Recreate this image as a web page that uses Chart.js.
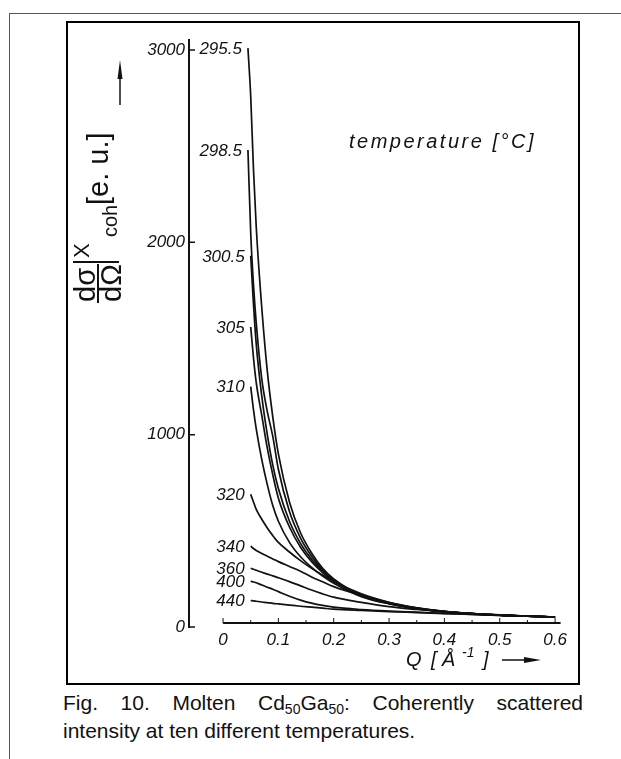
<!DOCTYPE html>
<html>
<head>
<meta charset="utf-8">
<script src="https://cdn.jsdelivr.net/npm/chart.js@4.4.0/dist/chart.umd.min.js"></script>
<style>
    html, body { margin:0; padding:0; background:#fff; }
    body { width:621px; height:759px; position:relative; overflow:hidden; font-family:"Liberation Sans", Arial, sans-serif; }
    .page-edge { position:absolute; left:9px; top:13px; right:0; bottom:0; border-top:1px solid #555; border-left:1px solid #555; }
    .frame { position:absolute; left:66px; top:21px; width:514px; height:664px; border:2px solid #000; box-sizing:border-box; }
    #chart { position:absolute; left:0; top:0; }
    .caption { position:absolute; left:63px; width:520px; font-size:21px; line-height:28px; color:#111; }
    .caption.first { top:689px; text-align:justify; text-align-last:justify; }
    .caption.second { top:717px; }
    .caption .sub { font-size:14px; position:relative; top:4px; }
</style>
</head>
<body>
<div class="page-edge"></div>
<div class="frame"></div>
<div class="caption first">Fig. 10. Molten Cd<span class="sub">50</span>Ga<span class="sub">50</span>: Coherently scattered</div>
<div class="caption second">intensity at ten different temperatures.</div>
<canvas id="chart" width="621" height="759"></canvas>
<script>
(function(global){
    "use strict";

    var qValues = [0.045, 0.05, 0.055, 0.06, 0.07, 0.08, 0.09, 0.10, 0.12, 0.14, 0.16, 0.18, 0.20, 0.25, 0.30, 0.35, 0.40, 0.45, 0.50, 0.55, 0.60];

    var curveNames = ["295.5", "298.5", "300.5", "305", "310", "320", "340", "360", "400", "440"];

    // intensity [e.u.] per temperature, null = curve not drawn there
    var t2955 = [3010, 2760, 2380, 2080, 1660, 1330, 1090, 900, 650, 490, 385, 305, 250, 165, 125, 98, 80, 70, 63, 57, 52];
    var t2985 = [2480, 2050, 1780, 1580, 1290, 1120, 990, 820, 600, 462, 368, 297, 246, 164, 124, 97, 80, 70, 62, 57, 52];
    var t3005 = [null, 1930, 1680, 1470, 1200, 1000, 840, 720, 550, 435, 352, 290, 242, 163, 123, 97, 80, 70, 62, 57, 52];
    var t305 = [null, 1560, 1400, 1270, 1100, 930, 790, 670, 520, 415, 340, 283, 238, 162, 122, 96, 79, 70, 62, 57, 52];
    var t310 = [null, 1250, 1130, 1030, 870, 740, 630, 550, 440, 365, 310, 265, 228, 158, 120, 95, 79, 69, 62, 57, 52];
    var t320 = [null, 690, 650, 612, 560, 515, 475, 440, 390, 345, 305, 270, 236, 172, 128, 99, 81, 70, 62, 57, 52];
    var t340 = [null, 420, 408, 398, 382, 368, 354, 340, 315, 290, 260, 235, 210, 165, 127, 99, 81, 70, 62, 57, 52];
    var t360 = [null, 305, 300, 295, 285, 275, 266, 256, 236, 214, 192, 172, 155, 128, 106, 91, 79, 69, 62, 56, 52];
    var t400 = [null, 238, 234, 230, 218, 207, 196, 184, 160, 140, 124, 112, 103, 91, 83, 77, 71, 65, 60, 56, 52];
    var t440 = [null, 137, 136, 134, 130, 127, 123, 120, 114, 108, 103, 98, 93, 86, 80, 75, 70, 65, 60, 56, 51];

    var curveValues = [t2955, t2985, t3005, t305, t310, t320, t340, t360, t400, t440];

    var xTickValues = [0, 0.1, 0.2, 0.3, 0.4, 0.5, 0.6];
    var xMinorTicks = [0.05, 0.15, 0.25, 0.35, 0.45, 0.55];
    var yTickValues = [0, 1000, 2000, 3000];

    var INK = "#111";
    var FONT = "'Liberation Sans', Arial, sans-serif";

    var toPoints = function(values) {
        var pts = [];
        for(var i = 0; i < qValues.length; i++) {
            if(values[i] !== null) {
                pts.push({x: qValues[i], y: values[i]});
            }
        }
        return pts;
    };

    var datasets = [];
    for(var i = 0; i < curveValues.length; i++) {
        datasets.push({
            label: curveNames[i],
            data: toPoints(curveValues[i]),
            borderColor: INK,
            borderWidth: 1.7,
            pointRadius: 0,
            fill: false,
            cubicInterpolationMode: "monotone"
        });
    }

    var drawYTitle = function(ctx) {
        ctx.save();
        ctx.translate(98, 303);
        ctx.rotate(-Math.PI / 2);
        ctx.fillStyle = INK;
        ctx.strokeStyle = INK;
        ctx.textAlign = "left";
        ctx.textBaseline = "alphabetic";

        ctx.font = "29px " + FONT;
        ctx.fillText("d\u03c3", 1, -3);
        ctx.fillText("d\u03a9", 1, 23);

        ctx.lineWidth = 2;
        ctx.beginPath();
        ctx.moveTo(0, 0);
        ctx.lineTo(39, 0);
        ctx.moveTo(41, -25);
        ctx.lineTo(41, 21);
        ctx.stroke();

        ctx.font = "22px " + FONT;
        ctx.fillText("X", 45, -9);
        ctx.font = "20px " + FONT;
        ctx.fillText("coh", 66, 19);

        ctx.font = "29px " + FONT;
        ctx.fillText("[e. u.]", 98, 10);
        ctx.restore();

        // arrow pointing up
        ctx.save();
        ctx.strokeStyle = INK;
        ctx.fillStyle = INK;
        ctx.lineWidth = 1.5;
        ctx.beginPath();
        ctx.moveTo(120, 105);
        ctx.lineTo(120, 72);
        ctx.stroke();
        ctx.beginPath();
        ctx.moveTo(120, 60);
        ctx.lineTo(117.5, 79);
        ctx.lineTo(122.5, 79);
        ctx.closePath();
        ctx.fill();
        ctx.restore();
    };

    var drawXTitle = function(ctx) {
        ctx.save();
        ctx.fillStyle = INK;
        ctx.strokeStyle = INK;
        ctx.textAlign = "left";
        ctx.textBaseline = "alphabetic";
        ctx.font = "italic 20px " + FONT;
        ctx.fillText("Q", 406, 666);
        ctx.fillText("[", 431, 666);
        ctx.fillText("\u00c5", 442, 666);
        ctx.font = "italic 14px " + FONT;
        ctx.fillText("-1", 462, 657);
        ctx.font = "italic 20px " + FONT;
        ctx.fillText("]", 483, 666);

        ctx.lineWidth = 1.5;
        ctx.beginPath();
        ctx.moveTo(502, 660);
        ctx.lineTo(530, 660);
        ctx.stroke();
        ctx.beginPath();
        ctx.moveTo(541, 660);
        ctx.lineTo(524, 657);
        ctx.lineTo(524, 663);
        ctx.closePath();
        ctx.fill();
        ctx.restore();
    };

    var decorPlugin = {
        id: "decor",
        afterDraw: function(chart) {
            var ctx = chart.ctx;
            var xs = chart.scales.x;
            var ys = chart.scales.y;
            var area = chart.chartArea;
            var i, px, py;

            ctx.save();
            ctx.strokeStyle = INK;
            ctx.fillStyle = INK;

            // inward ticks on the y axis
            ctx.lineWidth = 1.5;
            ctx.beginPath();
            for(i = 0; i < yTickValues.length; i++) {
                py = ys.getPixelForValue(yTickValues[i]);
                ctx.moveTo(area.left, py);
                ctx.lineTo(area.left + 6, py);
            }
            ctx.stroke();

            // x axis stands apart from the y axis
            var axisY = area.bottom - 4;
            ctx.lineWidth = 2;
            ctx.beginPath();
            ctx.moveTo(xs.getPixelForValue(0), axisY);
            ctx.lineTo(xs.getPixelForValue(0.61), axisY);
            ctx.stroke();
            ctx.lineWidth = 1;
            ctx.beginPath();
            for(i = 0; i < xTickValues.length; i++) {
                px = xs.getPixelForValue(xTickValues[i]);
                ctx.moveTo(px, axisY);
                ctx.lineTo(px, axisY - 5);
            }
            for(i = 0; i < xMinorTicks.length; i++) {
                px = xs.getPixelForValue(xMinorTicks[i]);
                ctx.moveTo(px, axisY);
                ctx.lineTo(px, axisY - 3);
            }
            ctx.stroke();

            // temperature next to the start of each curve
            ctx.font = "italic 17px " + FONT;
            ctx.textAlign = "right";
            ctx.textBaseline = "middle";
            for(i = 0; i < chart.data.datasets.length; i++) {
                var first = chart.getDatasetMeta(i).data[0];
                if(first) {
                    ctx.fillText(chart.data.datasets[i].label, first.x - 6, first.y + 1);
                }
            }

            ctx.textAlign = "left";
            ctx.textBaseline = "alphabetic";
            ctx.font = "italic 20px " + FONT;
            if("letterSpacing" in ctx) {
                ctx.letterSpacing = "2.5px";
            }
            ctx.fillText("temperature [\u00b0C]", 349, 148);
            if("letterSpacing" in ctx) {
                ctx.letterSpacing = "0px";
            }
            ctx.restore();

            drawYTitle(ctx);
            drawXTitle(ctx);
        }
    };

    var fixedTicks = function(values) {
        return function(scale) {
            scale.ticks = values.map(function(v){ return {value: v}; });
        };
    };

    global.cohChart = new Chart(document.getElementById("chart"), {
        type: "line",
        data: {datasets: datasets},
        options: {
            responsive: false,
            animation: false,
            layout: {padding: {left: 129, top: 40, right: 59, bottom: 92}},
            plugins: {legend: {display: false}, tooltip: {enabled: false}},
            scales: {
                x: {
                    type: "linear",
                    min: -0.0615,
                    max: 0.6125,
                    afterBuildTicks: fixedTicks(xTickValues),
                    afterFit: function(scale){ scale.height = 40; },
                    grid: {drawOnChartArea: false, drawTicks: false},
                    border: {display: false},
                    ticks: {
                        autoSkip: false,
                        maxRotation: 0,
                        padding: 3,
                        color: INK,
                        font: {family: FONT, size: 17, style: "italic"},
                        callback: function(v){ return v === 0 ? "0" : v.toFixed(1); }
                    }
                },
                y: {
                    type: "linear",
                    min: 0,
                    max: 3052,
                    afterBuildTicks: fixedTicks(yTickValues),
                    afterFit: function(scale){ scale.width = 60; },
                    grid: {drawOnChartArea: false, drawTicks: false},
                    border: {display: true, color: INK, width: 2},
                    ticks: {
                        autoSkip: false,
                        padding: 4,
                        color: INK,
                        font: {family: FONT, size: 17, style: "italic"},
                        callback: function(v){ return String(v); }
                    }
                }
            }
        },
        plugins: [decorPlugin]
    });

})(window);
</script>
</body>
</html>
